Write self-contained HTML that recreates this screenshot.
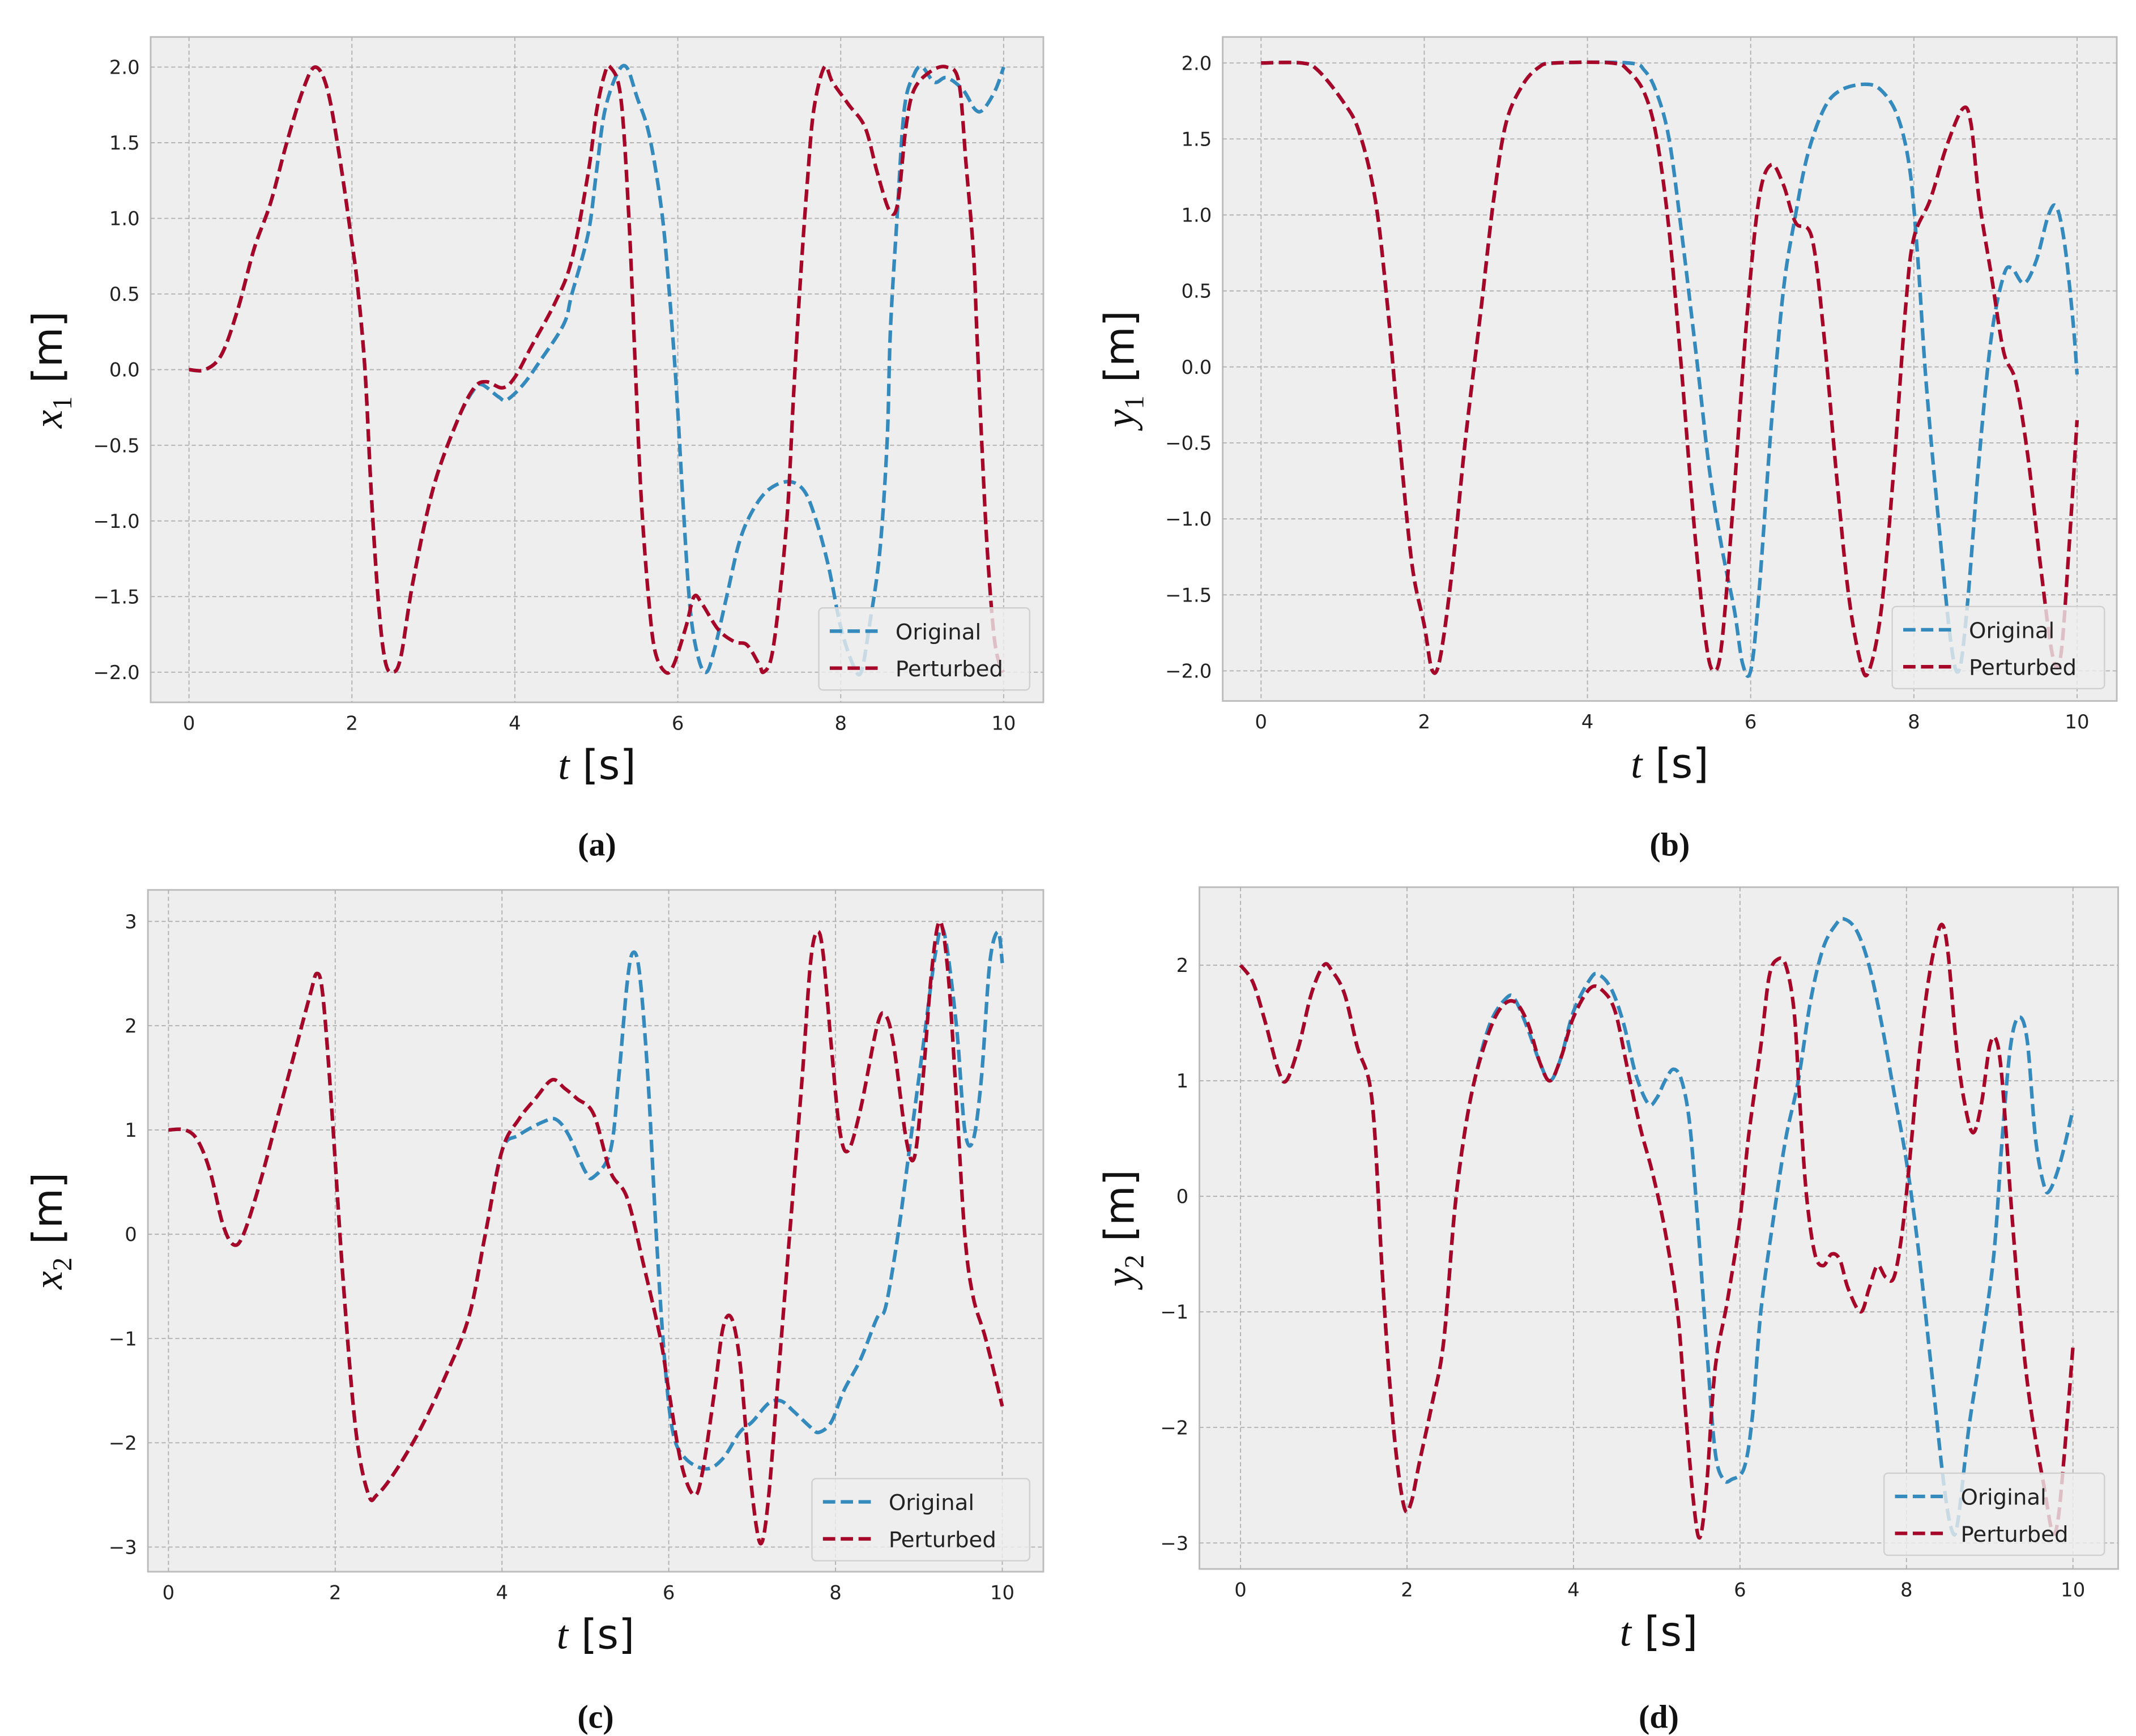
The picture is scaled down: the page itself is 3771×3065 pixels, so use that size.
<!DOCTYPE html>
<html><head><meta charset="utf-8"><style>
html,body{margin:0;padding:0;background:#fff;}
svg{display:block;}
text{font-family:"DejaVu Sans","Liberation Sans",sans-serif;}
</style></head><body>
<svg id="fig" width="3771" height="3065" viewBox="0 0 1560 1268" xmlns="http://www.w3.org/2000/svg"></svg>
<script>
// ---- data (t, value) pairs per series ----
const x1Pert=[[0,0],[0.2,0],[0.4,0.1],[0.6,0.4],[0.8,0.8],[1.0,1.1],[1.2,1.5],[1.4,1.85],[1.55,2.0],[1.7,1.85],[1.85,1.4],[2.0,0.84],[2.07,0.55],[2.16,0],[2.24,-0.84],[2.33,-1.57],[2.41,-1.93],[2.5,-2.0],[2.6,-1.9],[2.75,-1.4],[3.0,-0.78],[3.3,-0.33],[3.5,-0.12],[3.65,-0.08],[3.85,-0.12],[4.0,-0.05],[4.2,0.15],[4.5,0.45],[4.7,0.73],[4.9,1.3],[5.0,1.7],[5.1,1.95],[5.17,2.0],[5.3,1.8],[5.4,1.0],[5.48,0],[5.55,-0.84],[5.64,-1.5],[5.72,-1.86],[5.85,-2.0],[5.95,-1.95],[6.1,-1.7],[6.2,-1.5],[6.3,-1.55],[6.5,-1.72],[6.7,-1.8],[6.85,-1.82],[7.0,-1.95],[7.05,-2.0],[7.15,-1.9],[7.25,-1.5],[7.35,-0.91],[7.42,-0.18],[7.5,0.55],[7.59,1.24],[7.67,1.72],[7.8,2.0],[7.9,1.9],[8.1,1.75],[8.3,1.6],[8.45,1.3],[8.6,1.05],[8.7,1.1],[8.8,1.6],[8.9,1.85],[9.1,1.97],[9.3,2.0],[9.45,1.9],[9.54,1.35],[9.63,0.77],[9.67,0.26],[9.73,-0.47],[9.8,-1.2],[9.88,-1.75],[9.95,-1.95],[10,-2.0]];
const x1Orig=[[0,0],[0.2,0],[0.4,0.1],[0.6,0.4],[0.8,0.8],[1.0,1.1],[1.2,1.5],[1.4,1.85],[1.55,2.0],[1.7,1.85],[1.85,1.4],[2.0,0.84],[2.07,0.55],[2.16,0],[2.24,-0.84],[2.33,-1.57],[2.41,-1.93],[2.5,-2.0],[2.6,-1.9],[2.75,-1.4],[3.0,-0.78],[3.3,-0.33],[3.5,-0.13],[3.6,-0.1],[3.8,-0.18],[3.9,-0.2],[4.1,-0.1],[4.3,0.05],[4.6,0.3],[4.7,0.5],[4.9,0.9],[5.0,1.3],[5.1,1.7],[5.25,1.95],[5.37,2.0],[5.5,1.8],[5.65,1.55],[5.8,1.06],[5.89,0.55],[5.98,-0.1],[6.06,-0.84],[6.15,-1.57],[6.25,-1.9],[6.35,-2.0],[6.45,-1.85],[6.6,-1.5],[6.75,-1.15],[6.9,-0.95],[7.1,-0.8],[7.35,-0.74],[7.55,-0.8],[7.7,-1.0],[7.85,-1.3],[8.0,-1.7],[8.15,-1.95],[8.25,-2.0],[8.35,-1.7],[8.48,-1.2],[8.57,-0.47],[8.61,0.26],[8.69,0.99],[8.78,1.72],[8.9,1.95],[9.0,2.0],[9.15,1.9],[9.3,1.93],[9.5,1.85],[9.65,1.72],[9.75,1.72],[9.9,1.85],[10,2.0]];
const y1Pert=[[0,2],[0.5,2],[0.7,1.95],[1.0,1.75],[1.2,1.55],[1.4,1.1],[1.55,0.4],[1.7,-0.5],[1.85,-1.3],[2.0,-1.7],[2.1,-2.0],[2.2,-1.9],[2.35,-1.3],[2.5,-0.5],[2.7,0.4],[2.85,1.1],[3.0,1.6],[3.2,1.85],[3.4,1.97],[3.6,2.0],[4.3,2.0],[4.5,1.95],[4.7,1.8],[4.85,1.5],[5.0,0.9],[5.15,0],[5.3,-1.0],[5.45,-1.8],[5.55,-2.0],[5.65,-1.8],[5.8,-0.8],[5.95,0.3],[6.1,1.1],[6.25,1.33],[6.4,1.2],[6.55,0.95],[6.75,0.85],[6.9,0.2],[7.05,-0.7],[7.2,-1.5],[7.35,-1.95],[7.45,-2.0],[7.6,-1.6],[7.75,-0.7],[7.9,0.4],[8.0,0.85],[8.2,1.1],[8.4,1.45],[8.6,1.7],[8.7,1.6],[8.8,1.1],[8.95,0.6],[9.1,0.1],[9.25,-0.1],[9.4,-0.6],[9.55,-1.3],[9.7,-1.9],[9.8,-1.9],[9.9,-1.2],[10,-0.35]];
const y1Orig=[[0,2],[0.5,2],[0.7,1.95],[1.0,1.75],[1.2,1.55],[1.4,1.1],[1.55,0.4],[1.7,-0.5],[1.85,-1.3],[2.0,-1.7],[2.1,-2.0],[2.2,-1.9],[2.35,-1.3],[2.5,-0.5],[2.7,0.4],[2.85,1.1],[3.0,1.6],[3.2,1.85],[3.4,1.97],[3.6,2.0],[4.5,2.0],[4.7,1.95],[4.85,1.8],[5.0,1.5],[5.15,0.9],[5.35,0],[5.5,-0.7],[5.65,-1.2],[5.8,-1.6],[5.9,-1.95],[6.0,-2.0],[6.1,-1.5],[6.25,-0.4],[6.4,0.5],[6.55,1.0],[6.7,1.4],[6.9,1.7],[7.1,1.82],[7.4,1.86],[7.6,1.82],[7.8,1.65],[7.95,1.3],[8.05,0.7],[8.15,-0.1],[8.3,-1.0],[8.45,-1.8],[8.55,-2.0],[8.65,-1.6],[8.8,-0.6],[8.95,0.2],[9.1,0.6],[9.2,0.65],[9.35,0.55],[9.5,0.7],[9.65,1.0],[9.75,1.05],[9.85,0.8],[9.95,0.3],[10,-0.05]];
const x2Pert=[[0,1.0],[0.2,1.0],[0.35,0.9],[0.5,0.6],[0.65,0.1],[0.78,-0.1],[0.9,0.0],[1.1,0.5],[1.3,1.1],[1.5,1.7],[1.7,2.3],[1.78,2.5],[1.85,2.3],[1.95,1.3],[2.1,-0.5],[2.25,-1.9],[2.4,-2.5],[2.5,-2.5],[2.7,-2.3],[3.0,-1.9],[3.3,-1.4],[3.6,-0.8],[3.8,0.0],[4.0,0.8],[4.2,1.1],[4.4,1.3],[4.6,1.48],[4.75,1.4],[4.9,1.3],[5.1,1.15],[5.3,0.6],[5.5,0.35],[5.7,-0.3],[5.9,-1.0],[6.0,-1.5],[6.15,-2.2],[6.3,-2.5],[6.4,-2.3],[6.55,-1.5],[6.65,-0.9],[6.75,-0.8],[6.85,-1.2],[6.95,-2.1],[7.05,-2.8],[7.12,-2.95],[7.2,-2.5],[7.3,-1.5],[7.45,0.0],[7.6,1.5],[7.7,2.6],[7.78,2.9],[7.85,2.7],[7.95,1.8],[8.05,1.0],[8.15,0.8],[8.3,1.2],[8.5,2.0],[8.6,2.1],[8.7,1.8],[8.85,0.9],[8.95,0.75],[9.05,1.5],[9.15,2.5],[9.25,3.0],[9.35,2.5],[9.45,1.3],[9.55,0.0],[9.65,-0.6],[9.8,-1.0],[10,-1.65]];
const x2Orig=[[0,1.0],[0.2,1.0],[0.35,0.9],[0.5,0.6],[0.65,0.1],[0.78,-0.1],[0.9,0.0],[1.1,0.5],[1.3,1.1],[1.5,1.7],[1.7,2.3],[1.78,2.5],[1.85,2.3],[1.95,1.3],[2.1,-0.5],[2.25,-1.9],[2.4,-2.5],[2.5,-2.5],[2.7,-2.3],[3.0,-1.9],[3.3,-1.4],[3.6,-0.8],[3.8,0.0],[4.0,0.8],[4.2,0.95],[4.5,1.08],[4.65,1.1],[4.8,0.95],[5.0,0.6],[5.1,0.55],[5.3,0.8],[5.4,1.5],[5.5,2.4],[5.57,2.7],[5.65,2.5],[5.75,1.5],[5.85,0.0],[5.95,-1.2],[6.05,-1.9],[6.2,-2.15],[6.45,-2.25],[6.65,-2.15],[6.85,-1.9],[7.0,-1.8],[7.2,-1.62],[7.35,-1.6],[7.5,-1.7],[7.7,-1.85],[7.8,-1.9],[7.95,-1.8],[8.1,-1.5],[8.3,-1.2],[8.5,-0.8],[8.6,-0.7],[8.75,0.0],[8.9,0.9],[9.05,1.8],[9.2,2.7],[9.3,2.9],[9.45,2.0],[9.55,1.0],[9.65,0.9],[9.75,1.5],[9.85,2.6],[9.95,2.9],[10,2.6]];
const y2Pert=[[0,2.0],[0.15,1.85],[0.3,1.5],[0.45,1.1],[0.55,1.0],[0.7,1.3],[0.85,1.75],[1.0,2.0],[1.1,1.95],[1.25,1.75],[1.4,1.3],[1.58,0.83],[1.7,-0.63],[1.78,-1.5],[1.87,-2.23],[1.97,-2.7],[2.05,-2.65],[2.15,-2.3],[2.3,-1.8],[2.44,-1.26],[2.57,-0.14],[2.69,0.54],[2.82,1.03],[3.0,1.45],[3.15,1.65],[3.3,1.68],[3.45,1.5],[3.6,1.15],[3.72,1.0],[3.85,1.2],[4.0,1.55],[4.2,1.8],[4.35,1.78],[4.5,1.6],[4.65,1.1],[4.8,0.6],[4.95,0.2],[5.1,-0.3],[5.25,-1.0],[5.35,-1.9],[5.45,-2.7],[5.52,-2.95],[5.6,-2.5],[5.7,-1.5],[5.85,-0.9],[6.0,-0.2],[6.1,0.5],[6.25,1.3],[6.35,1.9],[6.45,2.05],[6.55,2.0],[6.65,1.6],[6.72,0.8],[6.8,0.0],[6.9,-0.5],[7.0,-0.6],[7.1,-0.5],[7.2,-0.55],[7.3,-0.8],[7.45,-1.0],[7.55,-0.8],[7.65,-0.6],[7.75,-0.7],[7.85,-0.7],[7.95,-0.3],[8.05,0.4],[8.15,1.2],[8.25,1.8],[8.35,2.2],[8.43,2.35],[8.5,2.1],[8.6,1.3],[8.7,0.8],[8.8,0.55],[8.9,0.8],[9.0,1.3],[9.08,1.35],[9.15,1.0],[9.25,0.0],[9.35,-0.9],[9.45,-1.6],[9.55,-2.1],[9.65,-2.5],[9.75,-2.9],[9.82,-2.8],[9.9,-2.2],[10,-1.3]];
const y2Orig=[[0,2.0],[0.15,1.85],[0.3,1.5],[0.45,1.1],[0.55,1.0],[0.7,1.3],[0.85,1.75],[1.0,2.0],[1.1,1.95],[1.25,1.75],[1.4,1.3],[1.58,0.83],[1.7,-0.63],[1.78,-1.5],[1.87,-2.23],[1.97,-2.7],[2.05,-2.65],[2.15,-2.3],[2.3,-1.8],[2.44,-1.26],[2.57,-0.14],[2.69,0.54],[2.82,1.03],[3.0,1.5],[3.2,1.72],[3.3,1.7],[3.45,1.45],[3.6,1.15],[3.72,1.0],[3.85,1.2],[4.0,1.6],[4.2,1.88],[4.3,1.92],[4.45,1.8],[4.6,1.5],[4.75,1.05],[4.9,0.8],[5.0,0.85],[5.1,1.0],[5.2,1.1],[5.3,1.0],[5.4,0.6],[5.5,-0.3],[5.6,-1.3],[5.7,-2.2],[5.8,-2.45],[5.9,-2.45],[6.05,-2.35],[6.15,-1.9],[6.25,-1.0],[6.4,-0.2],[6.55,0.5],[6.7,1.0],[6.85,1.7],[7.0,2.15],[7.15,2.35],[7.25,2.4],[7.4,2.3],[7.55,2.0],[7.7,1.5],[7.85,0.9],[8.0,0.3],[8.15,-0.5],[8.3,-1.5],[8.45,-2.5],[8.55,-2.9],[8.62,-2.8],[8.75,-2.0],[8.9,-1.3],[9.05,-0.5],[9.15,0.5],[9.25,1.3],[9.35,1.55],[9.45,1.35],[9.55,0.5],[9.65,0.1],[9.72,0.05],[9.85,0.3],[10,0.75]];
const xTicks=[0,2,4,6,8,10];
const yTicksA=[-2,-1.5,-1,-0.5,0,0.5,1,1.5,2];
const yTicksC=[-3,-2,-1,0,1,2,3];
const yTicksD=[-3,-2,-1,0,1,2];
const captions=["(a)","(b)","(c)","(d)"];

const NS="http://www.w3.org/2000/svg";
const svg=document.getElementById('fig');
function mk(tag,attrs,parent){const e=document.createElementNS(NS,tag);for(const k in attrs)e.setAttribute(k,attrs[k]);(parent||svg).appendChild(e);return e;}
function fmt(v,dec){return (v<0?"\u2212":"")+Math.abs(v).toFixed(dec);}

function panel(cfg){
  const g=mk('g',{});
  
  
  const sx=t=>cfg.x0+(t-0)*(cfg.x10-cfg.x0)/10;
  const sy=v=>cfg.yTop+(cfg.vTop-v)*(cfg.yBot-cfg.yTop)/(cfg.vTop-cfg.vBot);
  const bg=mk('rect',{x:cfg.bx0,y:cfg.by0,width:cfg.bx1-cfg.bx0,height:cfg.by1-cfg.by0,fill:'#eeeeee',stroke:'#bcbcbc','stroke-width':1.2},g);
  
  
  for(const t of xTicks){
    const l=mk('line',{x1:sx(t),x2:sx(t),y1:cfg.by0,y2:cfg.by1,stroke:'#b2b2b2','stroke-width':0.8,'stroke-dasharray':'3,2'},g);
    
    
    const tx=mk('text',{x:sx(t),y:cfg.by1+20,'font-size':14,'text-anchor':'middle',fill:'#222'},g);
    tx.textContent=String(t);
    
    
  }
  for(const v of cfg.yTicks){
    const l=mk('line',{x1:cfg.bx0,x2:cfg.bx1,y1:sy(v),y2:sy(v),stroke:'#b2b2b2','stroke-width':0.8,'stroke-dasharray':'3,2'},g);
    
    
    const tx=mk('text',{x:cfg.bx0-8,y:sy(v)+5,'font-size':14,'text-anchor':'end',fill:'#222'},g);
    tx.textContent=fmt(v,cfg.dec);
    
    
  }
  const cp=mk('clipPath',{id:'clip'+cfg.id},g);
  mk('rect',{x:cfg.bx0,y:cfg.by0,width:cfg.bx1-cfg.bx0,height:cfg.by1-cfg.by0},cp);
  function path(data){
    const p=data.map(d=>[sx(d[0]),sy(d[1])]);
    let s='M'+p[0][0].toFixed(2)+','+p[0][1].toFixed(2);
    for(let i=0;i<p.length-1;i++){
      const p0=p[Math.max(0,i-1)],p1=p[i],p2=p[i+1],p3=p[Math.min(p.length-1,i+2)];
      const c1=[p1[0]+(p2[0]-p0[0])/6,p1[1]+(p2[1]-p0[1])/6];
      const c2=[p2[0]-(p3[0]-p1[0])/6,p2[1]-(p3[1]-p1[1])/6];
      s+='C'+c1.map(n=>n.toFixed(2)).join(',')+' '+c2.map(n=>n.toFixed(2)).join(',')+' '+p2.map(n=>n.toFixed(2)).join(',');
    }
    return s;
  }
  const o=mk('path',{d:path(cfg.orig),fill:'none',stroke:'#348ABD','stroke-width':2.6,'stroke-dasharray':'9,4','clip-path':'url(#clip'+cfg.id+')'},g);
  
  
  const p=mk('path',{d:path(cfg.pert),fill:'none',stroke:'#A60628','stroke-width':2.6,'stroke-dasharray':'9,4','clip-path':'url(#clip'+cfg.id+')'},g);
  
  
  // legend
  const lg=mk('g',{},g);
  
  
  mk('rect',{x:cfg.lx,y:cfg.ly,width:cfg.lw,height:60,rx:3,fill:'#eeeeee','fill-opacity':0.8,stroke:'#d0d0d0','stroke-width':1},lg);
  const items=[['Original','#348ABD'],['Perturbed','#A60628']];
  items.forEach((it,i)=>{
    const yy=cfg.ly+17+i*27;
    const e=mk('g',{},lg);
    
    
    mk('line',{x1:cfg.lx+8,x2:cfg.lx+43,y1:yy,y2:yy,stroke:it[1],'stroke-width':2.6,'stroke-dasharray':'9,4'},e);
    const t=mk('text',{x:cfg.lx+56,y:yy+6,'font-size':16,fill:'#222'},e);
    t.textContent=it[0];
  });
  // axis labels
  const cx=(cfg.bx0+cfg.bx1)/2;
  const xl=mk('text',{x:cx,y:cfg.by1+56,'font-size':30,'text-anchor':'middle',fill:'#111'},g);
  
  
  xl.innerHTML='<tspan font-family="Liberation Serif, serif" font-style="italic">t</tspan> [s]';
  const cy=(cfg.by0+cfg.by1)/2;
  const yl=mk('text',{x:cfg.ylx,y:cy,'font-size':30,'text-anchor':'middle',fill:'#111',transform:'rotate(-90 '+cfg.ylx+' '+cy+')'},g);
  
  
  yl.innerHTML='<tspan font-family="Liberation Serif, serif" font-style="italic">'+cfg.sym+'</tspan><tspan font-family="Liberation Serif, serif" font-size="20" dy="7">'+cfg.sub+'</tspan><tspan dy="-7"> [m]</tspan>';
  const cap=mk('text',{x:cx,y:cfg.capY,'font-size':24,'font-weight':'bold','text-anchor':'middle',fill:'#111','font-family':'Liberation Serif, serif'},g);
  cap.setAttribute('style','font-family:"Liberation Serif",serif');
  cap.textContent=captions[cfg.idx];
  
  
}
panel({id:'a',idx:0,bx0:110,bx1:762,by0:27,by1:513,x0:138,x10:733,yTop:49,yBot:491,vTop:2,vBot:-2,yTicks:yTicksA,dec:1,orig:x1Orig,pert:x1Pert,lx:598,ly:444,lw:154,ylx:45,sym:'x',sub:'1',capY:625});
panel({id:'b',idx:1,bx0:893,bx1:1546,by0:27,by1:512,x0:921,x10:1517,yTop:46,yBot:490,vTop:2,vBot:-2,yTicks:yTicksA,dec:1,orig:y1Orig,pert:y1Pert,lx:1382,ly:443,lw:155,ylx:828,sym:'y',sub:'1',capY:625});
panel({id:'c',idx:2,bx0:108,bx1:762,by0:650,by1:1148,x0:123,x10:732,yTop:673,yBot:1130,vTop:3,vBot:-3,yTicks:yTicksC,dec:0,orig:x2Orig,pert:x2Pert,lx:593,ly:1080,lw:159,ylx:45,sym:'x',sub:'2',capY:1262});
panel({id:'d',idx:3,bx0:876,bx1:1547,by0:648,by1:1146,x0:906,x10:1514,yTop:705,yBot:1127,vTop:2,vBot:-3,yTicks:yTicksD,dec:0,orig:y2Orig,pert:y2Pert,lx:1376,ly:1076,lw:161,ylx:828,sym:'y',sub:'2',capY:1262});
</script>
</body></html>
